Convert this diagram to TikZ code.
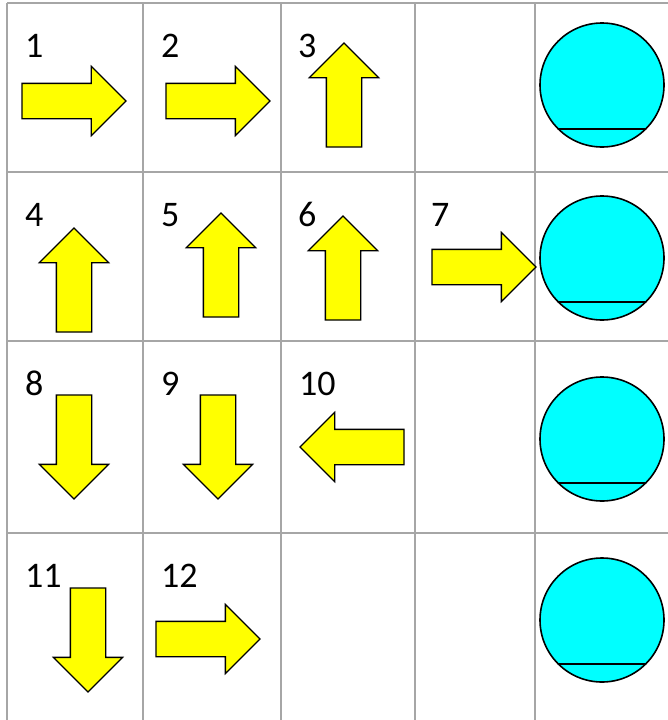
\documentclass[tikz,border=0pt]{standalone}
\usepackage{fontspec}
\setmainfont{Carlito}
\usetikzlibrary{shapes.arrows}
\definecolor{arrowyellow}{RGB}{255,255,0}
\definecolor{tankcyan}{RGB}{0,255,255}
\definecolor{gridgray}{RGB}{166,166,166}

\begin{document}
\begin{tikzpicture}[x=1pt,y=-1pt,
 gridline/.style={draw=gridgray,line width=2pt},
 blockarrow/.style={single arrow,draw,fill=arrowyellow,line width=1.3pt,
 inner sep=17pt,outer sep=0pt,minimum height=104pt,
 single arrow head extend=17pt,single arrow tip angle=90,anchor=tip},
 num/.style={anchor=base west,inner sep=0pt,font=\fontsize{36}{40}\selectfont},
 tank/.style={circle,draw,fill=tankcyan,line width=1.6pt,minimum size=124pt,
 inner sep=0pt,outer sep=0pt},
 level/.style={line width=1.6pt}]
\useasboundingbox (0,0) rectangle (668,720);
\draw[gridline] (7,3)--(7,720);
\draw[gridline] (143,3)--(143,720);
\draw[gridline] (281,3)--(281,720);
\draw[gridline] (415,3)--(415,720);
\draw[gridline] (535,3)--(535,720);
\draw[gridline] (7,3)--(668,3);
\draw[gridline] (7,172)--(668,172);
\draw[gridline] (7,341)--(668,341);
\draw[gridline] (7,533)--(668,533);
% numbers
\node[num] (n1) at (25,57) {1};
\node[num] (n2) at (161,57) {2};
\node[num] (n3) at (298,57) {3};
\node[num] (n4) at (25,226) {4};
\node[num] (n5) at (161,226) {5};
\node[num] (n6) at (298,226) {6};
\node[num] (n7) at (431,226) {7};
\node[num] (n8) at (25,395) {8};
\node[num] (n9) at (161,395) {9};
\node[num] (n10) at (299,395) {10};
\node[num] (n11) at (25,587) {11};
\node[num] (n12) at (161,587) {12};
% arrows
\node[blockarrow] (a1) at (126,101) {};
\node[blockarrow] (a2) at (270,101) {};
\node[blockarrow,rotate=90] (a3) at (344,43) {};
\node[blockarrow,rotate=90] (a4) at (74,228) {};
\node[blockarrow,rotate=90] (a5) at (221,213) {};
\node[blockarrow,rotate=90] (a6) at (343,216) {};
\node[blockarrow] (a7) at (536,267) {};
\node[blockarrow,rotate=-90] (a8) at (74,499) {};
\node[blockarrow,rotate=-90] (a9) at (218,499) {};
\node[blockarrow,rotate=180] (a10) at (300,447) {};
\node[blockarrow,rotate=-90] (a11) at (88,692) {};
\node[blockarrow] (a12) at (260,639) {};
% tanks
\node[tank] (c1) at (602,85) {};
\node[tank] (c2) at (602,258) {};
\node[tank] (c3) at (602,439) {};
\node[tank] (c4) at (602,620) {};
\draw[level] (c1.-135)--(c1.-45);
\draw[level] (c2.-135)--(c2.-45);
\draw[level] (c3.-135)--(c3.-45);
\draw[level] (c4.-135)--(c4.-45);
\end{tikzpicture}
\end{document}
